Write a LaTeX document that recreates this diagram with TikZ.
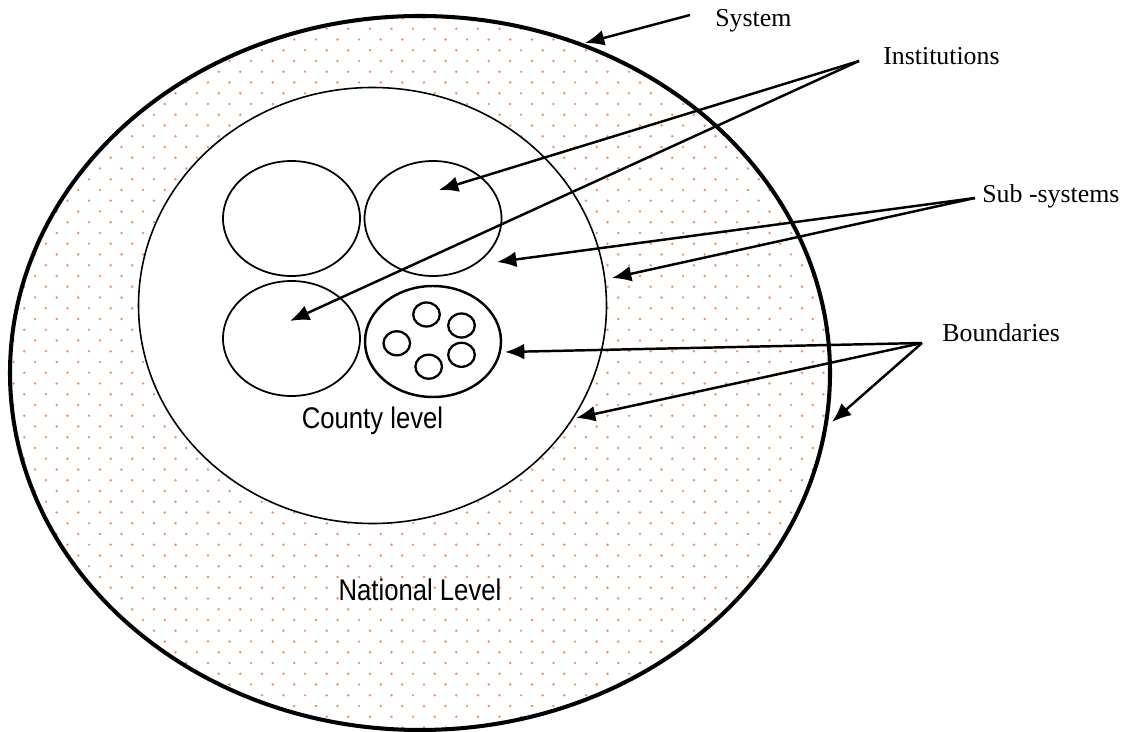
\documentclass[tikz,border=0pt]{standalone}
\usepackage{fontspec}
\setmainfont{Liberation Serif}
\newfontfamily\narrowsans[FakeStretch=0.86]{Liberation Sans}
\usetikzlibrary{arrows.meta}
\definecolor{dotorange}{RGB}{242,145,85}

\begin{document}
\begin{tikzpicture}[x = 0.02cm, y = -0.02cm, > = {Latex[length=11pt, width=9pt]},
	tag/.style = {anchor = base west, inner sep = 0, font = \fontsize{14.7}{17}\selectfont},
	level/.style = {anchor = base, inner sep = 0, font = \narrowsans\fontsize{17}{20}\selectfont},
	pointer/.style = {line width = 1.4pt, ->}]

	% Definitions

	\def\SysX{420}		% Centre of system ellipse
	\def\SysY{373}
	\def\SysA{410}		% Radii of system ellipse
	\def\SysB{357}
	\def\CtyX{372.5}	% Centre of county ellipse
	\def\CtyY{305.5}

	\useasboundingbox (0, 0) rectangle (1125, 732);

	% National level, dotted fill

	\begin{scope}
		\clip (\SysX, \SysY) ellipse [x radius = \SysA, y radius = \SysB];
		\foreach \j in {0, ..., 66} {
			\pgfmathsetmacro\RowY{18 + 10.75 * \j}
			\pgfmathsetmacro\RowX{13.5 + mod(\j, 2) * 10.8}
			\foreach \i in {0, ..., 38}
				\fill [dotorange] ({\RowX + 21.6 * \i}, \RowY) circle (1.35);
		}
	\end{scope}

	% County level

	\fill [white, draw = black, line width = 0.9pt] (\CtyX, \CtyY) ellipse [x radius = 234, y radius = 218];
	\draw [line width = 2.3pt] (\SysX, \SysY) ellipse [x radius = \SysA, y radius = \SysB];

	% Institutions

	\foreach \x / \y in {291.5 / 218.5, 433 / 218.5, 291.5 / 338.5}
		\draw [line width = 1pt] (\x, \y) ellipse [x radius = 68.5, y radius = 57.5];
	\draw [line width = 1.4pt] (433, 341.5) ellipse [x radius = 68, y radius = 55.5];
	\foreach \x / \y in {426.5 / 314.5, 461.5 / 325.5, 396.8 / 343.3, 461.5 / 354.8, 428.7 / 366.7}
		\draw [line width = 1.3pt] (\x, \y) ellipse [x radius = 13.3, y radius = 12];

	% Level names

	\node [level] (county) at (372.5, 429) {County level};
	\node [level] (national) at (420, 600) {National Level};

	% Labels and their arrows

	\node [tag] (system) at (715, 27) {System};
	\node [tag] (institutions) at (883, 65) {Institutions};
	\node [tag] (subsystems) at (982, 203) {Sub -systems};
	\node [tag] (boundaries) at (942, 342) {Boundaries};

	\coordinate (systemtail) at (690, 15);
	\coordinate (systemtip) at (585, 43);
	\coordinate (insttail) at (859, 61);
	\coordinate (insttipTR) at (439, 190);
	\coordinate (insttipBL) at (290, 321);
	\coordinate (subtail) at (975, 198);
	\coordinate (subtipTR) at (497, 262);
	\coordinate (subtipCty) at (612, 278);
	\coordinate (bndtail) at (922, 343);
	\coordinate (bndtipBR) at (505, 352);
	\coordinate (bndtipCty) at (576, 418);
	\coordinate (bndtipSys) at (832, 422);

	\draw [pointer] (systemtail) -- (systemtip);
	\draw [pointer] (insttail) -- (insttipTR);
	\draw [pointer] (insttail) -- (insttipBL);
	\draw [pointer] (subtail) -- (subtipTR);
	\draw [pointer] (subtail) -- (subtipCty);
	\draw [pointer] (bndtail) -- (bndtipBR);
	\draw [pointer] (bndtail) -- (bndtipCty);
	\draw [pointer] (bndtail) -- (bndtipSys);

\end{tikzpicture}
\end{document}
